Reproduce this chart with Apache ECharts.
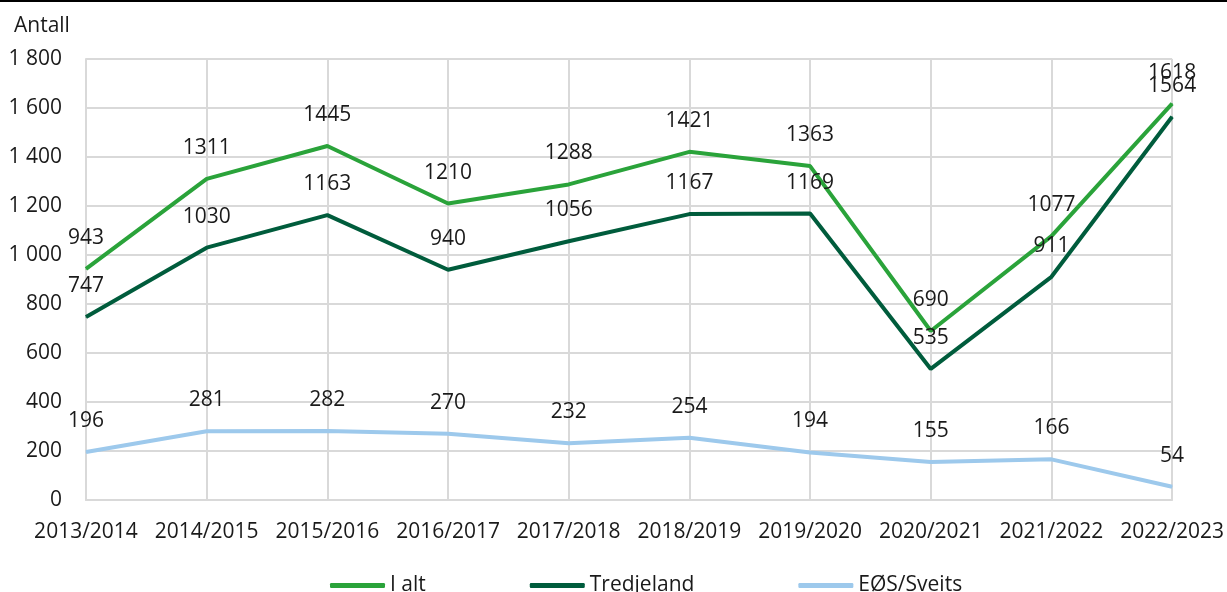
<!DOCTYPE html>
<html>
<head>
<meta charset="utf-8">
<script src="https://cdn.jsdelivr.net/npm/echarts@6/dist/echarts.min.js"></script>
<style>
  html, body { margin: 0; padding: 0; background: #fff; }
  #chart { width: 1227px; height: 592px; }
</style>
</head>
<body>
<div id="chart"></div>
<script>
const categories = ['2013/2014', '2014/2015', '2015/2016', '2016/2017', '2017/2018',
  '2018/2019', '2019/2020', '2020/2021', '2021/2022', '2022/2023'];
const iAlt = [943, 1311, 1445, 1210, 1288, 1421, 1363, 690, 1077, 1618];
const tredjeland = [747, 1030, 1163, 940, 1056, 1167, 1169, 535, 911, 1564];
const eosSveits = [196, 281, 282, 270, 232, 254, 194, 155, 166, 54];

const font = '"Open Sans", "Noto Sans", sans-serif';
const fs = 21;
const gridColor = '#d9d9d9';

function lineSeries(name, data, color) {
  return {
    name: name,
    type: 'line',
    data: data,
    symbol: 'circle',
    symbolSize: 1,
    showSymbol: true,
    lineStyle: { width: 4, color: color },
    itemStyle: { color: color },
    label: {
      show: true,
      position: 'top',
      distance: 20,
      fontFamily: font,
      fontSize: fs,
      color: '#1a1a1a'
    },
    emphasis: { disabled: true },
    animation: false
  };
}

const chart = echarts.init(document.getElementById('chart'), null, { renderer: 'canvas' });
chart.setOption({
  backgroundColor: '#fff',
  graphic: [{
    type: 'rect',
    shape: { x: 0, y: 0, width: 1227, height: 2 },
    style: { fill: '#000' }
  }, {
    type: 'text',
    left: 14,
    top: 16,
    style: { text: 'Antall', fontFamily: font, fontSize: fs, fill: '#1a1a1a' }
  }],
  grid: { left: 86, right: 53, top: 59, bottom: 92, containLabel: false },
  legend: {
    bottom: -9,
    left: 325,
    itemGap: 104,
    itemWidth: 55,
    itemHeight: 5,
    icon: 'roundRect',
    textStyle: { fontFamily: font, fontSize: fs, color: '#1a1a1a' },
    data: ['I alt', 'Tredjeland', 'EØS/Sveits']
  },
  xAxis: {
    type: 'category',
    data: categories,
    boundaryGap: false,
    axisLine: { lineStyle: { color: gridColor, width: 2 } },
    axisTick: { show: false },
    axisLabel: { fontFamily: font, fontSize: fs, color: '#1a1a1a', margin: 22, interval: 0 },
    splitLine: { show: true, lineStyle: { color: gridColor, width: 2 } }
  },
  yAxis: {
    type: 'value',
    min: 0,
    max: 1800,
    interval: 200,
    axisLine: { show: true, lineStyle: { color: gridColor, width: 2 } },
    axisTick: { show: false },
    axisLabel: {
      fontFamily: font, fontSize: fs, color: '#1a1a1a', margin: 24,
      formatter: v => String(v).replace(/\B(?=(\d{3})+(?!\d))/g, ' ')
    },
    splitLine: { lineStyle: { color: gridColor, width: 2 } }
  },
  series: [
    lineSeries('I alt', iAlt, '#2aa33a'),
    lineSeries('Tredjeland', tredjeland, '#005c3c'),
    lineSeries('EØS/Sveits', eosSveits, '#9dc9ec')
  ]
});
</script>
</body>
</html>
